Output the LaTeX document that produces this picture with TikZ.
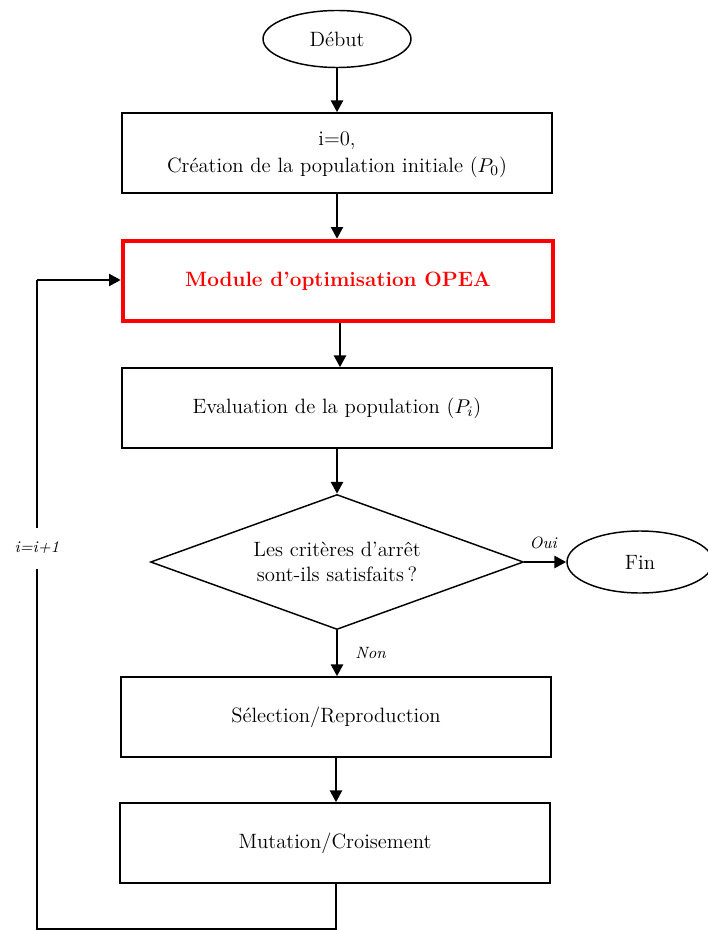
\documentclass[tikz,border=0pt]{standalone}
\usetikzlibrary{shapes.geometric,arrows.meta}
\begin{document}
\def\u{0.55pt}
\begin{tikzpicture}[x=\u,y=-\u,
  font=\fontsize{11.4}{13.8}\selectfont,
  box/.style={draw,line width=0.8pt,minimum width=430*\u,minimum height=80*\u,align=center,inner sep=0pt},
  oval/.style={draw,ellipse,line width=0.8pt,inner sep=0pt},
  flow/.style={line width=1.5pt,-{Triangle[length=6.5pt,width=6.5pt]}},
  lbl/.style={font=\fontsize{9}{11}\selectfont\itshape}]
\useasboundingbox (0,0) rectangle (707,930);
\node[oval,minimum width=148*\u,minimum height=57*\u] (debut) at (337,39) {Début};
\node[box] (init) at (337,153) {};
\node[align=center,inner sep=0pt] (inittext) at (337,155) {i=0,\\[1pt] Création de la population initiale ($P_0$)};
\node[box,draw=red,line width=2.4pt,text=red,font=\fontsize{11.4}{13.8}\selectfont\bfseries] (opea) at (338,281) {Module d'optimisation OPEA};
\node[box] (eval) at (337,408) {Evaluation de la population ($P_i$)};
\node[draw,diamond,line width=0.8pt,minimum width=373*\u,minimum height=135*\u,aspect=2.76,inner sep=0pt,align=center] (test) at (337,562) {Les critères d'arrêt\\ sont-ils satisfaits\,?};
\node[oval,minimum width=146*\u,minimum height=62*\u] (fin) at (640,562) {Fin};
\node[box] (sel) at (336,717) {Sélection/Reproduction};
\node[box] (mut) at (335,843) {Mutation/Croisement};
\coordinate (c1) at (336,929);
\coordinate (c2) at (37,929);
\coordinate (c3) at (37,280);

\draw[flow] (debut) -- (debut|-init.north);
\draw[flow] (init) -- (init|-opea.north);
\draw[flow] (opea.south-|340,0) -- (eval.north-|340,0);
\draw[flow] (eval) -- (test);
\draw[flow] (test.east) -- node[lbl,above,pos=0.45,yshift=3pt] {Oui} (fin);
\draw[flow] (test.south) -- node[lbl,right,xshift=6pt] {Non} (test.south|-sel.north);
\draw[flow] (sel.south-|336,0) -- (mut.north-|336,0);
\draw[line width=1.5pt] (mut.south-|336,0) -- (c1) -- (c2) -- node[lbl,fill=white,pos=0.587,inner ysep=8pt] {i=i+1} (c3);
\draw[flow] (c3) -- (opea.west|-c3);
\end{tikzpicture}
\end{document}
